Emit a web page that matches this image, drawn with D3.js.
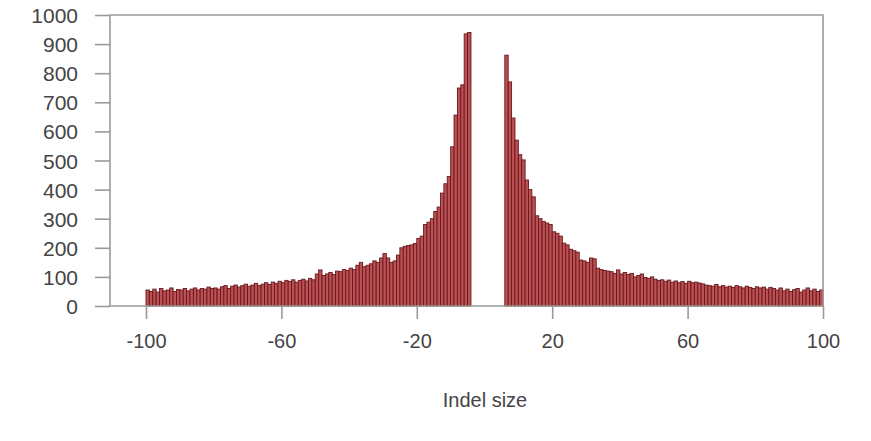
<!DOCTYPE html>
<html>
<head>
<meta charset="utf-8">
<script src="https://cdn.jsdelivr.net/npm/d3@7"></script>
<style>
  body { margin: 0; background: #fff; }
  svg text { font-family: "Liberation Sans", Arial, sans-serif; }
</style>
</head>
<body>
<div id="chart"></div>
<script>
// deletions: sizes -100 .. -5 (bar covers [s, s+1])
const delSizes = d3.range(-100, -4);
const delCounts = [
  55, 50, 58, 48, 60, 52, 55, 62, 50, 57,
  55, 60, 52, 58, 62, 55, 60, 58, 65, 60,
  62, 58, 66, 70, 60, 68, 72, 65, 70, 75,
  68, 72, 78, 70, 75, 80, 74, 82, 78, 85,
  80, 88, 84, 90, 82, 88, 92, 86, 95, 90,
  110, 124, 105, 110, 115, 108, 120, 118, 125, 122,
  130, 125, 140, 150, 135, 140, 145, 155, 150, 165,
  180, 165, 150, 155, 175, 200, 205, 208, 210, 215,
  232, 240, 280, 288, 300, 325, 340, 388, 420, 445,
  547, 656, 749, 760, 935, 940
];

// insertions: sizes 7 .. 100 (bar covers [s-1, s])
const insSizes = d3.range(7, 101);
const insCounts = [
  862, 770, 646, 570, 520, 502, 433, 400, 375, 310,
  300, 290, 285, 280, 255, 250, 240, 216, 210, 195,
  190, 185, 158, 155, 150, 165, 162, 130, 125, 122, 120,
  118, 112, 124, 110, 115, 108, 112, 100, 105, 110, 98,
  95, 100, 92, 88, 90, 85, 89, 82, 86, 80, 84, 78, 85, 80, 82, 79, 76,
  72, 70, 68, 74, 66, 70, 65, 68, 64, 70, 66, 62, 68, 64, 60, 66, 62, 65, 58, 64,
  60, 55, 62, 52, 58, 50, 56, 60, 48, 55, 62, 52, 58, 50, 55
];

const xTicks = [-100, -60, -20, 20, 60, 100];
const yTicks = [0, 100, 200, 300, 400, 500, 600, 700, 800, 900, 1000];

const width = 871, height = 441;
const frame = { left: 110, right: 823, top: 15, bottom: 306 };

const svg = d3.select("#chart").append("svg")
    .attr("width", width)
    .attr("height", height);

const x = d3.scaleLinear().domain([-100, 100]).range([146, 823]);
const y = d3.scaleLinear().domain([0, 1000]).range([frame.bottom, frame.top]);

const bars = delSizes.map((s, i) => ({ x0: s, x1: s + 1, v: delCounts[i] }))
    .concat(insSizes.map((s, i) => ({ x0: s - 1, x1: s, v: insCounts[i] })));

svg.append("g")
    .selectAll("rect")
    .data(bars)
    .join("rect")
    .attr("x", d => x(d.x0))
    .attr("width", d => x(d.x1) - x(d.x0))
    .attr("y", d => y(d.v))
    .attr("height", d => y(0) - y(d.v))
    .attr("fill", "#bd5053")
    .attr("stroke", "#66181c")
    .attr("stroke-width", 0.9);

const axisColor = "#9a9a9a";
const plainNum = d => String(d); // keep ascii hyphen, no thousands comma

// frame (left, top, right, bottom)
svg.append("path")
    .attr("d", `M${frame.left},${frame.bottom}V${frame.top}H${frame.right}V${frame.bottom}H${frame.left}`)
    .attr("fill", "none")
    .attr("stroke", axisColor)
    .attr("stroke-width", 1.6);

// y axis
const yAxis = svg.append("g")
    .attr("transform", `translate(${frame.left},0)`)
    .call(d3.axisLeft(y).tickValues(yTicks).tickFormat(plainNum).tickSize(15).tickPadding(17));
yAxis.select(".domain").remove();
yAxis.selectAll("line").attr("stroke", axisColor).attr("stroke-width", 1.6);
yAxis.selectAll("text")
    .attr("fill", "#444")
    .style("font-size", "21px")
    .attr("dy", "0.36em");

// x axis
const xAxis = svg.append("g")
    .attr("transform", `translate(0,${frame.bottom})`)
    .call(d3.axisBottom(x).tickValues(xTicks).tickFormat(plainNum).tickSize(13).tickPadding(15));
xAxis.select(".domain").remove();
xAxis.selectAll("line").attr("stroke", axisColor).attr("stroke-width", 1.6);
xAxis.selectAll("text")
    .attr("fill", "#444")
    .style("font-size", "20px");

svg.append("text")
    .attr("x", 485)
    .attr("y", 407)
    .attr("text-anchor", "middle")
    .attr("fill", "#444")
    .style("font-size", "20px")
    .text("Indel size");
</script>
</body>
</html>
